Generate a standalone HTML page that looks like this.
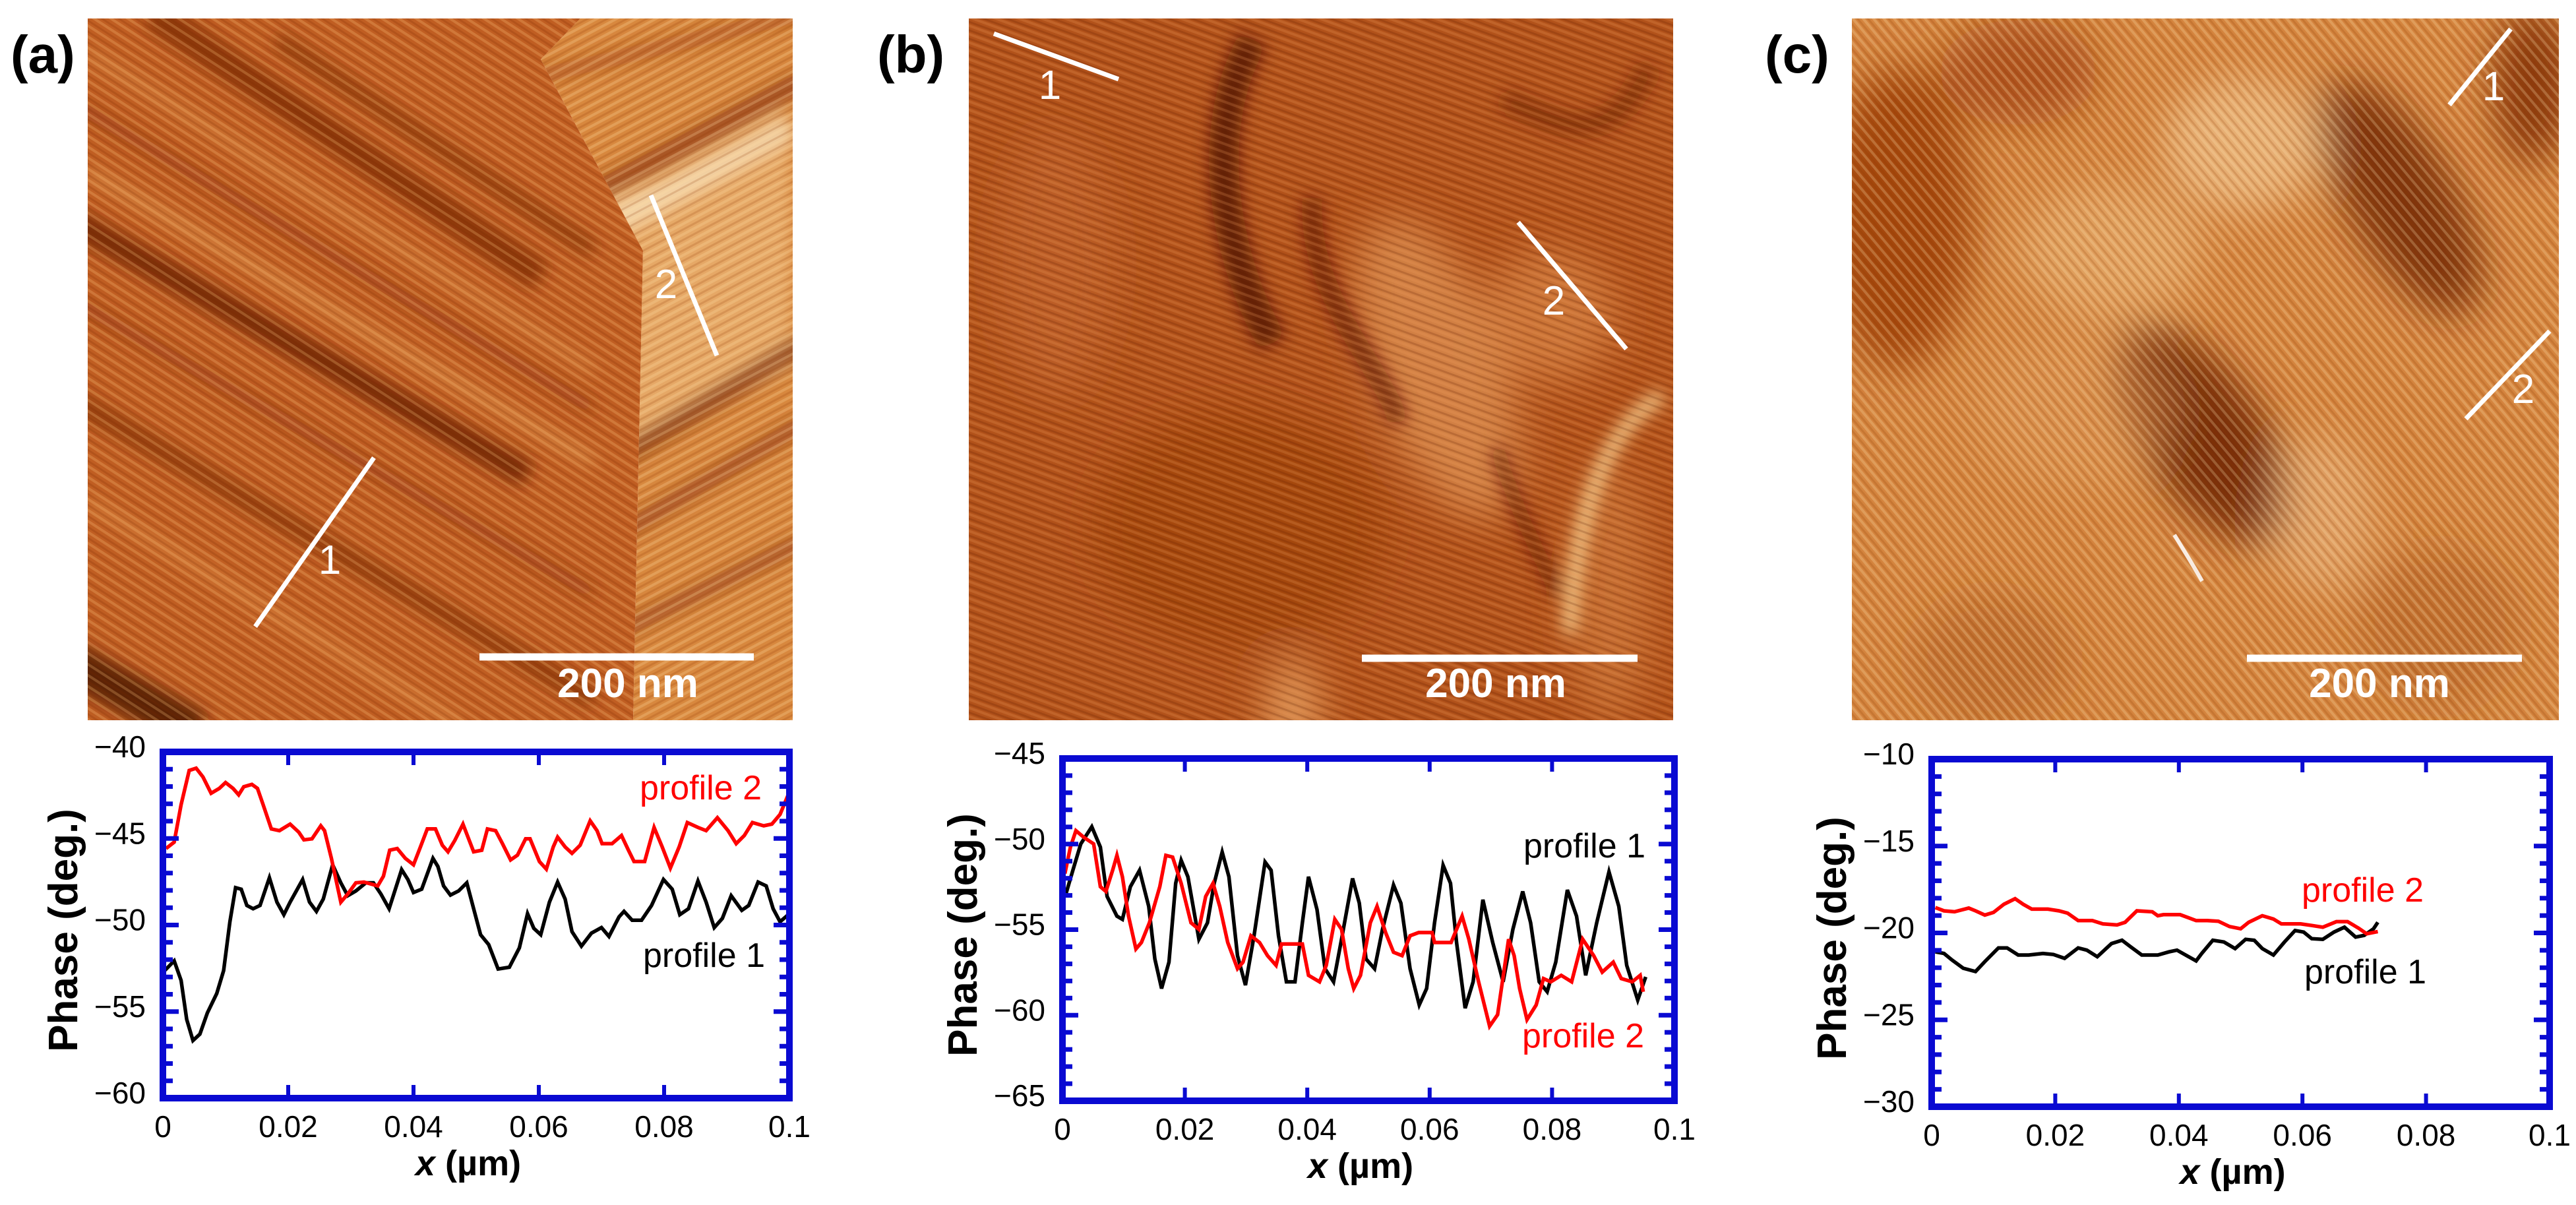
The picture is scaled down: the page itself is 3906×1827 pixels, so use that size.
<!DOCTYPE html>
<html><head><meta charset="utf-8">
<style>
html,body{margin:0;padding:0;background:#fff;}
svg{display:block;font-family:"Liberation Sans",Arial,sans-serif;}
</style></head>
<body>
<svg id="fig" width="3906" height="1827" viewBox="0 0 3906 1827" xmlns="http://www.w3.org/2000/svg">
<defs>
  <filter id="blur30" x="-20%" y="-20%" width="140%" height="140%"><feGaussianBlur stdDeviation="30"/></filter>
  <filter id="blur12" x="-20%" y="-20%" width="140%" height="140%"><feGaussianBlur stdDeviation="12"/></filter>
  <pattern id="stripA1" width="14" height="14" patternUnits="userSpaceOnUse" patternTransform="rotate(33)">
    <rect width="14" height="4" fill="#ffc880" opacity="0.25"/><rect y="8" width="14" height="3" fill="#7a2800" opacity="0.2"/>
  </pattern>
  <pattern id="stripA2" width="14" height="14" patternUnits="userSpaceOnUse" patternTransform="rotate(-28)">
    <rect width="14" height="4" fill="#ffe0a8" opacity="0.25"/><rect y="8" width="14" height="3" fill="#8a3000" opacity="0.18"/>
  </pattern>
  <pattern id="stripB" width="12" height="12" patternUnits="userSpaceOnUse" patternTransform="rotate(20)">
    <rect width="12" height="4" fill="#f0a060" opacity="0.22"/><rect y="7" width="12" height="3" fill="#5a1800" opacity="0.2"/>
  </pattern>
  <pattern id="stripC" width="12" height="12" patternUnits="userSpaceOnUse" patternTransform="rotate(50)">
    <rect width="12" height="4" fill="#ffe2b0" opacity="0.25"/><rect y="7" width="12" height="3" fill="#8a3a00" opacity="0.18"/>
  </pattern>
  <clipPath id="clipAL"><polygon points="133,28 880,28 820,90 975,380 960,1092 133,1092"/></clipPath>
  <clipPath id="clipAR"><polygon points="880,28 1202,28 1202,1092 960,1092 975,380 820,90"/></clipPath>
  <clipPath id="clipB"><rect x="1469" y="28" width="1068" height="1064"/></clipPath>
  <clipPath id="clipC"><rect x="2808" y="28" width="1072" height="1064"/></clipPath>
</defs>

<!-- ========== AFM image (a) ========== -->
<g>
  <g clip-path="url(#clipAL)">
    <rect x="133" y="28" width="1069" height="1064" fill="#c05e22"/>
    <g filter="url(#blur12)" stroke-linecap="butt">
      <line x1="100" y1="330" x2="800" y2="720" stroke="#6a2004" stroke-width="38" opacity="0.85"/>
      <line x1="230" y1="20" x2="820" y2="420" stroke="#7a2808" stroke-width="45" opacity="0.75"/>
      <line x1="420" y1="60" x2="900" y2="380" stroke="#7a2808" stroke-width="25" opacity="0.65"/>
      <line x1="100" y1="600" x2="900" y2="1060" stroke="#7a2808" stroke-width="30" opacity="0.65"/>
      <line x1="100" y1="450" x2="900" y2="900" stroke="#8a3210" stroke-width="20" opacity="0.5"/>
      <line x1="100" y1="150" x2="900" y2="620" stroke="#8a3210" stroke-width="20" opacity="0.5"/>
      <line x1="100" y1="1000" x2="300" y2="1110" stroke="#4a1400" stroke-width="60" opacity="0.85"/>
      <line x1="133" y1="260" x2="900" y2="700" stroke="#f7c070" stroke-width="9" opacity="0.8"/>
      <line x1="133" y1="80" x2="900" y2="560" stroke="#f7c070" stroke-width="7" opacity="0.7"/>
      <line x1="133" y1="760" x2="700" y2="1100" stroke="#f4b060" stroke-width="9" opacity="0.7"/>
    </g>
    <rect x="133" y="28" width="1069" height="1064" fill="url(#stripA1)"/>
  </g>
  <g clip-path="url(#clipAR)">
    <rect x="133" y="28" width="1069" height="1064" fill="#d8883e"/>
    <g filter="url(#blur12)">
      <polygon points="830,330 1200,210 1200,560 830,740" fill="#eab070" opacity="0.8"/>
      <line x1="830" y1="390" x2="1200" y2="190" stroke="#f8e0b8" stroke-width="40" opacity="0.8"/>
      <line x1="830" y1="330" x2="1220" y2="120" stroke="#8a3210" stroke-width="28" opacity="0.75"/>
      <line x1="800" y1="780" x2="1220" y2="520" stroke="#7a2808" stroke-width="30" opacity="0.75"/>
      <line x1="790" y1="900" x2="1220" y2="640" stroke="#8a3210" stroke-width="24" opacity="0.65"/>
      <line x1="770" y1="1040" x2="1220" y2="820" stroke="#8a3210" stroke-width="24" opacity="0.6"/>
      <line x1="800" y1="120" x2="1220" y2="20" stroke="#a04010" stroke-width="24" opacity="0.55"/>
    </g>
    <rect x="133" y="28" width="1069" height="1064" fill="url(#stripA2)"/>
  </g>
</g>
<g stroke="#fff" stroke-width="7" fill="#fff">
  <line x1="387" y1="950" x2="567" y2="694"/>
  <line x1="987" y1="296" x2="1087" y2="539"/>
  <line x1="727" y1="996" x2="1143" y2="996" stroke-width="11"/>
  <text x="500" y="870" font-size="62" stroke="none" text-anchor="middle">1</text>
  <text x="1010" y="452" font-size="62" stroke="none" text-anchor="middle">2</text>
  <text x="952" y="1057" font-size="62" font-weight="bold" stroke="none" text-anchor="middle">200 nm</text>
</g>
<text x="16" y="110" font-size="80" font-weight="bold">(a)</text>

<!-- ========== AFM image (b) ========== -->
<g clip-path="url(#clipB)">
  <rect x="1469" y="28" width="1068" height="1064" fill="#b2521a"/>
  <g filter="url(#blur30)">
    <ellipse cx="2180" cy="560" rx="100" ry="240" fill="#e8a060" opacity="0.6" transform="rotate(-20 2180 560)"/>
    <ellipse cx="2350" cy="480" rx="100" ry="100" fill="#e09050" opacity="0.55"/>
    <ellipse cx="2440" cy="900" rx="60" ry="200" fill="#d88848" opacity="0.5"/>
    <ellipse cx="1880" cy="800" rx="220" ry="180" fill="#983c0c" opacity="0.5"/>
    <ellipse cx="1960" cy="1080" rx="40" ry="80" fill="#f0b070" opacity="0.7"/>
    <ellipse cx="1600" cy="400" rx="90" ry="200" fill="#c86c30" opacity="0.45"/>
  </g>
  <g filter="url(#blur12)" fill="none">
    <path d="M1900,60 C1820,200 1860,400 1930,520" stroke="#4a0e00" stroke-width="45" opacity="0.75"/>
    <path d="M1990,300 C1980,450 2100,560 2120,640" stroke="#5a1400" stroke-width="30" opacity="0.65"/>
    <path d="M2280,150 C2350,180 2440,240 2500,100" stroke="#6a2004" stroke-width="30" opacity="0.55"/>
    <path d="M2520,600 C2420,660 2390,800 2380,960" stroke="#ffe0a0" stroke-width="20" opacity="0.85"/>
    <path d="M2270,680 C2300,780 2340,850 2360,900" stroke="#5a1400" stroke-width="22" opacity="0.6"/>
  </g>
  <rect x="1469" y="28" width="1068" height="1064" fill="url(#stripB)"/>
</g>
<g stroke="#fff" stroke-width="7" fill="#fff">
  <line x1="1507" y1="51" x2="1696" y2="120"/>
  <line x1="2302" y1="337" x2="2466" y2="529"/>
  <line x1="2065" y1="998" x2="2483" y2="998" stroke-width="11"/>
  <text x="1592" y="150" font-size="62" stroke="none" text-anchor="middle">1</text>
  <text x="2356" y="477" font-size="62" stroke="none" text-anchor="middle">2</text>
  <text x="2268" y="1057" font-size="62" font-weight="bold" stroke="none" text-anchor="middle">200 nm</text>
</g>
<text x="1330" y="110" font-size="80" font-weight="bold">(b)</text>

<!-- ========== AFM image (c) ========== -->
<g clip-path="url(#clipC)">
  <rect x="2808" y="28" width="1072" height="1064" fill="#d4843e"/>
  <g filter="url(#blur30)">
    <ellipse cx="2880" cy="330" rx="110" ry="230" fill="#983808" opacity="0.8"/>
    <ellipse cx="3060" cy="110" rx="120" ry="80" fill="#a04010" opacity="0.7"/>
    <ellipse cx="3340" cy="660" rx="90" ry="190" fill="#6a1e00" opacity="0.85" transform="rotate(-35 3340 660)"/>
    <ellipse cx="3640" cy="300" rx="80" ry="200" fill="#6a1e00" opacity="0.8" transform="rotate(-30 3640 300)"/>
    <ellipse cx="3840" cy="130" rx="60" ry="120" fill="#7a2800" opacity="0.8"/>
    <ellipse cx="3400" cy="220" rx="120" ry="100" fill="#f4cc98" opacity="0.6"/>
    <ellipse cx="3200" cy="380" rx="140" ry="100" fill="#eebc80" opacity="0.5"/>
    <ellipse cx="3520" cy="780" rx="80" ry="120" fill="#eec090" opacity="0.45"/>
    <ellipse cx="3020" cy="1000" rx="120" ry="100" fill="#b05c20" opacity="0.5"/>
    <ellipse cx="3700" cy="950" rx="120" ry="120" fill="#b05c20" opacity="0.5"/>
    <ellipse cx="3150" cy="620" rx="150" ry="120" fill="#e0a060" opacity="0.4"/>
  </g>
  <rect x="2808" y="28" width="1072" height="1064" fill="url(#stripC)"/>
  <path d="M3297,811 C3315,840 3330,865 3339,881" stroke="#fff" stroke-width="6" fill="none" opacity="0.85"/>
</g>
<g stroke="#fff" stroke-width="7" fill="#fff">
  <line x1="3807" y1="44" x2="3714" y2="159"/>
  <line x1="3866" y1="502" x2="3739" y2="635"/>
  <line x1="3407" y1="998" x2="3824" y2="998" stroke-width="11"/>
  <text x="3781" y="152" font-size="62" stroke="none" text-anchor="middle">1</text>
  <text x="3826" y="611" font-size="62" stroke="none" text-anchor="middle">2</text>
  <text x="3608" y="1057" font-size="62" font-weight="bold" stroke="none" text-anchor="middle">200 nm</text>
</g>
<text x="2676" y="110" font-size="80" font-weight="bold">(c)</text>

<g id="charts"></g>
</svg>

<script>
// ---- shared axis ticks ----
var xTickValues = [0, 0.02, 0.04, 0.06, 0.08, 0.1];
var xTickLabels = ["0", "0.02", "0.04", "0.06", "0.08", "0.1"];

// ---- chart (a) ----
var yTicksA = [-60, -55, -50, -45, -40];
var yTickLabelsA = ["\u221260", "\u221255", "\u221250", "\u221245", "\u221240"];
var a1x = [.0003,.0018,.0029,.0038,.0048,.0059,.0071,.0086,.0097,.0107,.0116,.0125,.0134,.0144,.0155,.0170,.0182,.0193,.0203,.0223,.0234,.0245,.0256,.0271,.0284,.0295,.0308,.0324,.0336,.0348,.0361,.0371,.0381,.0391,.0400,.0413,.0431,.0439,.0448,.0459,.0472,.0485,.0496,.0507,.0520,.0535,.0553,.0569,.0582,.0592,.0603,.0617,.0630,.0642,.0653,.0668,.0684,.0700,.0712,.0728,.0736,.0749,.0764,.0780,.0799,.0813,.0825,.0839,.0854,.0867,.0880,.0893,.0907,.0924,.0935,.0950,.0963,.0974,.0985,.0997];
var a1y = [-52.63,-52.07,-53.20,-55.45,-56.67,-56.30,-55.08,-53.95,-52.63,-49.81,-47.84,-47.93,-48.87,-49.06,-48.87,-47.27,-48.68,-49.40,-48.68,-47.37,-48.68,-49.21,-48.50,-46.52,-47.56,-48.31,-48.03,-47.56,-47.56,-48.21,-49.06,-47.93,-46.80,-47.37,-48.12,-47.93,-46.15,-46.62,-47.74,-48.27,-48.03,-47.56,-49.06,-50.56,-51.13,-52.54,-52.44,-51.32,-49.34,-50.19,-50.56,-48.68,-47.52,-48.50,-50.38,-51.22,-50.47,-50.15,-50.66,-49.53,-49.21,-49.72,-49.72,-48.87,-47.37,-47.93,-49.40,-49.06,-47.46,-48.68,-50.15,-49.62,-48.31,-49.15,-48.87,-47.52,-47.74,-49.06,-49.81,-49.44];
var a2x = [.0005,.0018,.0029,.0042,.0053,.0064,.0077,.0090,.0100,.0112,.0121,.0129,.0142,.0151,.0160,.0173,.0186,.0203,.0217,.0225,.0238,.0252,.0258,.0269,.0284,.0295,.0308,.0321,.0343,.0352,.0362,.0374,.0387,.0400,.0411,.0422,.0435,.0446,.0455,.0466,.0479,.0487,.0496,.0509,.0518,.0531,.0542,.0555,.0566,.0579,.0586,.0601,.0612,.0623,.0630,.0642,.0653,.0666,.0682,.0693,.0701,.0717,.0732,.0743,.0752,.0769,.0784,.0797,.0810,.0824,.0837,.0854,.0867,.0885,.0902,.0915,.0928,.0941,.0959,.0972,.0985,.0998];
var a2y = [-45.58,-45.21,-43.05,-41.07,-40.94,-41.45,-42.39,-42.11,-41.77,-42.11,-42.48,-42.01,-41.88,-42.11,-43.05,-44.45,-44.55,-44.17,-44.64,-45.08,-45.02,-44.27,-44.55,-46.15,-48.68,-48.21,-47.56,-47.52,-47.74,-47.18,-45.68,-45.58,-46.15,-46.52,-45.49,-44.45,-44.45,-45.39,-45.77,-45.11,-44.17,-44.92,-45.77,-45.68,-44.45,-44.55,-45.30,-46.24,-45.96,-45.02,-45.02,-46.33,-46.77,-45.49,-44.92,-45.49,-45.86,-45.39,-43.98,-44.55,-45.30,-45.30,-44.83,-45.68,-46.33,-46.33,-44.36,-45.49,-46.71,-45.49,-44.08,-44.36,-44.55,-43.80,-44.55,-45.30,-44.83,-44.08,-44.27,-44.17,-43.61,-42.48];

// ---- chart (b) ----
var yTicksB = [-65, -60, -55, -50, -45];
var yTickLabelsB = ["\u221265", "\u221260", "\u221255", "\u221250", "\u221245"];
var b1x = [.0006,.0017,.0030,.0048,.0062,.0073,.0089,.0098,.0111,.0126,.0141,.0151,.0162,.0174,.0185,.0194,.0205,.0223,.0237,.0248,.0261,.0272,.0286,.0299,.0313,.0331,.0341,.0353,.0366,.0380,.0392,.0402,.0416,.0429,.0443,.0456,.0474,.0485,.0496,.0510,.0523,.0541,.0553,.0568,.0583,.0595,.0608,.0622,.0634,.0644,.0658,.0671,.0687,.0703,.0720,.0736,.0752,.0765,.0779,.0792,.0806,.0825,.0840,.0855,.0873,.0893,.0909,.0922,.0940,.0953];
var b1y = [-52.87,-51.53,-49.99,-48.99,-50.18,-53.06,-54.21,-54.40,-52.49,-51.53,-53.64,-56.71,-58.44,-56.90,-52.29,-50.95,-51.91,-55.56,-54.60,-52.29,-50.47,-51.91,-56.52,-58.24,-55.36,-51.05,-51.53,-55.36,-58.05,-58.05,-54.60,-51.91,-53.83,-57.28,-58.05,-55.56,-52.01,-53.45,-56.71,-57.28,-54.98,-52.39,-53.45,-57.28,-59.40,-58.44,-54.60,-51.24,-52.29,-55.75,-59.59,-58.05,-53.25,-55.75,-58.05,-54.98,-52.77,-54.60,-58.05,-58.63,-56.90,-52.68,-54.21,-57.67,-54.60,-51.62,-53.64,-57.09,-59.11,-57.76];
var b2x = [.0004,.0013,.0022,.0035,.0051,.0062,.0071,.0082,.0089,.0098,.0108,.0120,.0129,.0142,.0159,.0169,.0180,.0194,.0210,.0223,.0234,.0246,.0257,.0270,.0286,.0295,.0308,.0322,.0335,.0349,.0358,.0392,.0402,.0420,.0431,.0445,.0456,.0467,.0476,.0487,.0503,.0514,.0528,.0541,.0555,.0568,.0582,.0604,.0608,.0635,.0653,.0664,.0680,.0698,.0711,.0729,.0738,.0747,.0759,.0774,.0786,.0798,.0815,.0832,.0850,.0868,.0882,.0900,.0913,.0931,.0944,.0949];
var b2y = [-51.72,-50.18,-49.22,-49.61,-49.99,-52.49,-52.77,-51.53,-50.66,-51.91,-54.21,-56.13,-55.75,-54.60,-52.49,-50.66,-50.76,-52.29,-54.60,-54.98,-53.06,-52.29,-53.64,-55.75,-57.28,-56.90,-55.36,-55.75,-56.52,-57.09,-55.84,-55.84,-57.67,-58.05,-57.09,-54.40,-54.98,-57.28,-58.44,-57.67,-54.60,-53.64,-55.17,-56.32,-56.52,-55.36,-55.17,-55.17,-55.75,-55.75,-54.21,-55.56,-58.05,-60.64,-59.97,-55.56,-56.52,-58.44,-60.26,-59.40,-57.86,-58.05,-57.67,-58.05,-55.56,-56.52,-57.48,-56.90,-57.86,-58.05,-57.67,-58.63];

// ---- chart (c) ----
var yTicksC = [-30, -25, -20, -15, -10];
var yTickLabelsC = ["\u221230", "\u221225", "\u221220", "\u221215", "\u221210"];
var c1x = [.0006,.0020,.0033,.0051,.0071,.0086,.0108,.0122,.0140,.0157,.0180,.0197,.0215,.0237,.0251,.0268,.0291,.0308,.0322,.0340,.0366,.0384,.0397,.0411,.0428,.0437,.0455,.0473,.0491,.0508,.0522,.0535,.0553,.0571,.0588,.0602,.0615,.0633,.0651,.0668,.0686,.0700,.0715,.0722];
var c1y = [-21.09,-21.18,-21.56,-22.03,-22.22,-21.65,-20.86,-20.86,-21.27,-21.27,-21.18,-21.24,-21.46,-20.86,-20.99,-21.37,-20.61,-20.42,-20.80,-21.27,-21.27,-21.09,-20.99,-21.27,-21.61,-21.18,-20.42,-20.52,-20.90,-20.37,-20.42,-20.90,-21.27,-20.52,-19.86,-19.95,-20.33,-20.37,-19.95,-19.67,-20.24,-20.14,-19.76,-19.39];
var c2x = [.0006,.0020,.0037,.0060,.0071,.0086,.0100,.0117,.0135,.0148,.0162,.0188,.0206,.0220,.0237,.0260,.0277,.0300,.0313,.0332,.0357,.0366,.0375,.0402,.0428,.0446,.0464,.0482,.0500,.0513,.0535,.0553,.0566,.0597,.0615,.0633,.0655,.0673,.0691,.0704,.0722];
var c2y = [-18.54,-18.73,-18.78,-18.57,-18.73,-18.97,-18.82,-18.35,-18.03,-18.35,-18.63,-18.63,-18.73,-18.86,-19.29,-19.29,-19.48,-19.54,-19.39,-18.73,-18.78,-19.01,-18.95,-18.95,-19.29,-19.29,-19.33,-19.63,-19.76,-19.39,-19.01,-19.20,-19.48,-19.48,-19.57,-19.67,-19.35,-19.35,-19.73,-20.05,-19.92];

var NS = "http://www.w3.org/2000/svg";
var BLUE = "#0a0ad2";
function mk(tag, attrs, parent) {
  var e = document.createElementNS(NS, tag);
  for (var k in attrs) e.setAttribute(k, attrs[k]);
  if (parent) parent.appendChild(e);
  return e;
}

function drawChart(id, box, yTicks, yLabels, series, labels) {
  var root = document.getElementById("charts");
  var g = mk("g", {}, root);
  
  
  var x0 = box.l, x1 = box.r, yt = box.t, yb = box.b;
  var ymin = yTicks[0], ymax = yTicks[yTicks.length - 1];
  function sx(v) { return x0 + (v - xTickValues[0]) / (xTickValues[xTickValues.length - 1] - xTickValues[0]) * (x1 - x0); }
  function sy(v) { return yb - (v - ymin) / (ymax - ymin) * (yb - yt); }

  for (var s = 0; s < series.length; s++) {
    var ser = series[s], pts = [];
    for (var i = 0; i < ser.x.length; i++) pts.push(sx(ser.x[i]).toFixed(1) + "," + sy(ser.y[i]).toFixed(1));
    var pl = mk("polyline", {points: pts.join(" "), fill: "none", stroke: ser.color, "stroke-width": 5.5, "stroke-linejoin": "miter"}, g);
    
    
  }

  var tg = mk("g", {stroke: BLUE}, g);
  
  
  for (var i = 1; i < xTickValues.length - 1; i++) {
    var X = sx(xTickValues[i]);
    mk("line", {x1: X, y1: yb, x2: X, y2: yb - 20, "stroke-width": 6}, tg);
    mk("line", {x1: X, y1: yt, x2: X, y2: yt + 20, "stroke-width": 6}, tg);
  }
  for (var v = ymin + 1; v < ymax; v++) {
    var Y = sy(v), major = ((v - ymin) % 5 === 0), len = major ? 24 : 15;
    mk("line", {x1: x0, y1: Y, x2: x0 + len, y2: Y, "stroke-width": 7}, tg);
    mk("line", {x1: x1, y1: Y, x2: x1 - len, y2: Y, "stroke-width": 7}, tg);
  }
  var fr = mk("rect", {x: x0, y: yt, width: x1 - x0, height: yb - yt, fill: "none", stroke: BLUE, "stroke-width": 10}, g);
  
  

  var xl = mk("g", {"font-size": 46, "text-anchor": "middle", fill: "#000"}, g);
  
  
  for (var i = 0; i < xTickValues.length; i++) {
    var t = mk("text", {x: sx(xTickValues[i]), y: yb + 59}, xl);
    t.textContent = xTickLabels[i];
  }
  var yl = mk("g", {"font-size": 46, "text-anchor": "end", fill: "#000"}, g);
  
  
  for (var i = 0; i < yTicks.length; i++) {
    var t = mk("text", {x: x0 - 26, y: sy(yTicks[i]) + 8}, yl);
    t.textContent = yLabels[i];
  }
  var xt = mk("text", {x: (x0 + x1) / 2 - 12, y: yb + 117, "font-size": 54, "font-weight": "bold", "text-anchor": "middle"}, g);
  
  
  var it = mk("tspan", {"font-style": "italic"}, xt); it.textContent = "x";
  var rt = mk("tspan", {}, xt); rt.textContent = " (\u00b5m)";
  var cy = (yt + yb) / 2 + 8, cx = x0 - 130;
  var ytl = mk("text", {x: cx, y: cy, "font-size": 62, "font-weight": "bold", "text-anchor": "middle", transform: "rotate(-90 " + cx + " " + cy + ")"}, g);
  
  
  ytl.textContent = "Phase (deg.)";
  for (var i = 0; i < labels.length; i++) {
    var L = labels[i];
    var lt = mk("text", {x: L.x, y: L.y, "font-size": 52, fill: L.color}, g);
    
    
    lt.textContent = L.text;
  }
}

drawChart("a", {l: 247, r: 1197, t: 1140, b: 1665}, yTicksA, yTickLabelsA,
  [{x: a1x, y: a1y, color: "#000", name: "line-profile-1-a-series"},
   {x: a2x, y: a2y, color: "#ff0000", name: "line-profile-2-a-series"}],
  [{x: 970, y: 1212, text: "profile 2", color: "#ff0000", name: "legend-profile-2-a"},
   {x: 975, y: 1466, text: "profile 1", color: "#000", name: "legend-profile-1-a"}]);

drawChart("b", {l: 1611, r: 2539, t: 1150, b: 1669}, yTicksB, yTickLabelsB,
  [{x: b1x, y: b1y, color: "#000", name: "line-profile-1-b-series"},
   {x: b2x, y: b2y, color: "#ff0000", name: "line-profile-2-b-series"}],
  [{x: 2310, y: 1300, text: "profile 1", color: "#000", name: "legend-profile-1-b"},
   {x: 2308, y: 1588, text: "profile 2", color: "#ff0000", name: "legend-profile-2-b"}]);

drawChart("c", {l: 2929, r: 3866, t: 1151, b: 1678}, yTicksC, yTickLabelsC,
  [{x: c1x, y: c1y, color: "#000", name: "line-profile-1-c-series"},
   {x: c2x, y: c2y, color: "#ff0000", name: "line-profile-2-c-series"}],
  [{x: 3490, y: 1367, text: "profile 2", color: "#ff0000", name: "legend-profile-2-c"},
   {x: 3494, y: 1491, text: "profile 1", color: "#000", name: "legend-profile-1-c"}]);
</script>
</body></html>
